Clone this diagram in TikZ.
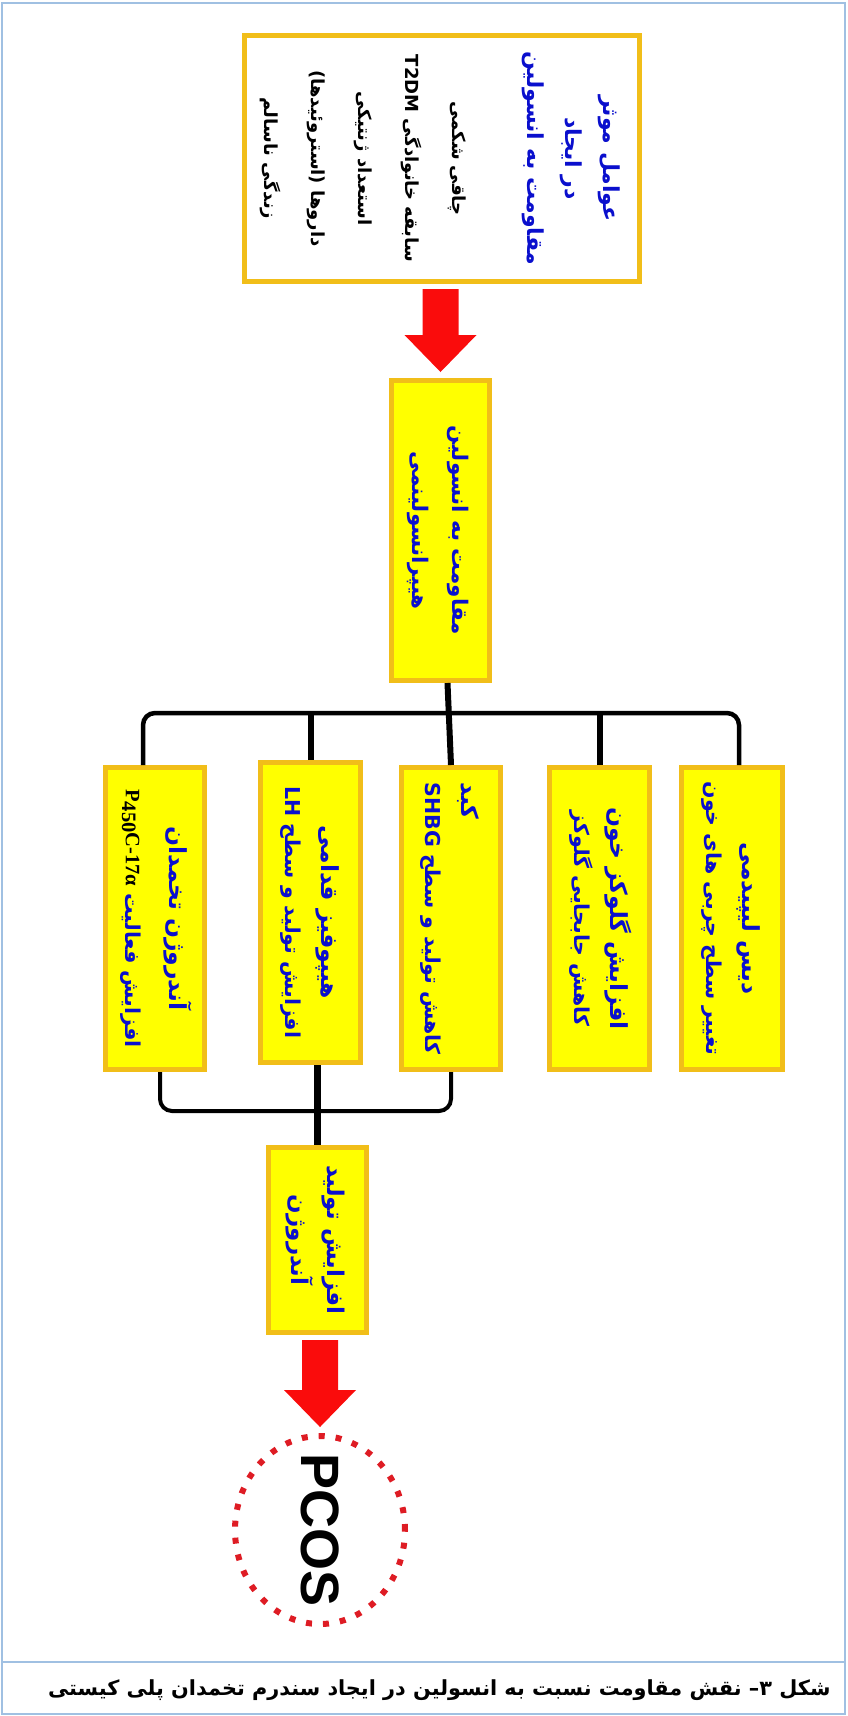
\documentclass[tikz,border=0pt]{standalone}
\usepackage{fontspec}
\usepackage{graphicx}
\usetikzlibrary{calc,shapes.geometric}
\TeXXeTstate=1
\newfontfamily\fafont[Script=Arabic]{DejaVu Sans}
\newfontfamily\latinsans{Liberation Sans}
\newfontfamily\latinserif{Liberation Serif}
\definecolor{boxgold}{RGB}{241,190,25}
\definecolor{boxyellow}{RGB}{255,255,0}
\definecolor{txtblue}{RGB}{10,15,205}
\definecolor{arrowred}{RGB}{250,12,12}
\definecolor{dotred}{RGB}{222,28,36}
\definecolor{frameblue}{RGB}{160,192,226}
\def\vlines#1{\rotatebox{-90}{\begin{tabular}{@{}c@{}}#1\end{tabular}}}
\def\headline#1{{\fontsize{23.5}{36}\selectfont\beginR #1\endR}}
\def\blockarrow(#1)(#2){\fill[arrowred] ($(#2 |- #1)+(-18,5)$) -- ($(#2 |- #1)+(18,5)$) -- ($(#2)+(18,-43)$) -- ($(#2)+(36,-43)$) -- ($(#2)+(0,-6)$) -- ($(#2)+(-36,-43)$) -- ($(#2)+(-18,-43)$) -- cycle;}

\begin{document}
\begin{tikzpicture}[x=1pt,y=-1pt,
	factorbox/.style={draw=boxgold,line width=5pt,fill=white,inner sep=0pt,minimum width=395pt,minimum height=246pt},
	ybox/.style={draw=boxgold,line width=5pt,fill=boxyellow,inner sep=0pt,minimum width=99pt,minimum height=302pt,text=txtblue,font=\fafont\bfseries\fontsize{20.5}{36}\selectfont},
	bus/.style={line width=4.5pt,rounded corners=12pt},
	drop/.style={line width=6pt}]
			%%%%% START %%%%%
			
			\useasboundingbox (0,0) rectangle (847,1716);
			\draw[frameblue,line width=1.5pt] (2,3) rectangle (845,1714);
			\draw[frameblue,line width=1.5pt] (2,1662) -- (845,1662);
			
			\node[factorbox,font=\fafont\bfseries\fontsize{18}{38}\selectfont] (factors) at (442,158.5) {\vlines{%
				\textcolor{txtblue}{\fontsize{22}{38}\selectfont\beginR عوامل موثر\endR}\\
				\textcolor{txtblue}{\fontsize{22}{38}\selectfont\beginR در ایجاد\endR}\\
				\textcolor{txtblue}{\fontsize{22}{38}\selectfont\beginR مقاومت به انسولین\endR}\\[37pt]
				\beginR چاقی شکمی\endR\\[9pt]
				\beginR سابقه خانوادگی \beginL T2DM\endL\endR\\[9pt]
				\beginR استعداد ژنتیکی\endR\\[9pt]
				\beginR داروها (استروئیدها)\endR\\[9pt]
				\beginR زندگی ناسالم\endR}};
			
			\node[ybox,minimum width=98pt,minimum height=300pt,font=\fafont\bfseries\fontsize{21.5}{40}\selectfont] (resist) at (440.5,530.5) {\vlines{\beginR مقاومت به انسولین\endR\\ \beginR هیپرانسولینمی\endR}};
			
			\node[ybox] (andro) at (155,918.5) {\vlines{\headline{آندروژن تخمدان}\\[8pt] \beginR افزایش فعالیت \beginL{\latinserif\bfseries\color{black}P\raisebox{-0.4ex}{450}C-17α}\endL\endR}};
			\node[ybox,minimum width=100pt,minimum height=300pt] (lhbox) at (310.5,912.5) {\vlines{\headline{هیپوفیز قدامی}\\ \beginR افزایش تولید و سطح \beginL LH\endL\endR}};
			\node[ybox] (shbg) at (451,918.5) {\rotatebox{-90}{\begin{tabular}{@{}l@{}}\headline{کبد}\\ \beginR کاهش تولید و سطح \beginL SHBG\endL\endR\end{tabular}}};
			\node[ybox,minimum width=100pt] (gluc) at (599.5,918.5) {\vlines{\headline{افزایش گلوکز خون}\\ \beginR کاهش جابجایی گلوکز\endR}};
			\node[ybox,minimum width=101pt] (lipid) at (732,918.5) {\vlines{\headline{دیس لیپیدمی}\\ \beginR تغییر سطح چربی های خون\endR}};
			
			\node[ybox,minimum width=98pt,minimum height=185pt,font=\fafont\bfseries\fontsize{23}{36}\selectfont] (prod) at (317,1240) {\vlines{\beginR افزایش تولید\endR\\ \beginR آندروژن\endR}};
			
			\node[ellipse,draw=dotred,line width=6pt,dash pattern=on 6pt off 11pt,inner sep=0pt,minimum width=170pt,minimum height=188pt,
				label={[font=\latinsans\bfseries\fontsize{54}{60}\selectfont]center:\rotatebox{-90}{PCOS}}] (pcos) at (320,1530) {};
			
			\coordinate (upbus) at (447,713);
			\coordinate (lowbus) at (316,1111);
			
			\draw[bus] ($(andro.north)+(-12,0)$) |- (upbus) -| ($(lipid.north)+(7,0)$);
			\draw[drop] ($(resist.south)+(7,0)$) -- (shbg.north);
			\draw[drop] (lhbox.north) -- (lhbox.north |- upbus);
			\draw[drop] (gluc.north) -- (gluc.north |- upbus);
			
			\draw[bus,line width=4pt] ($(andro.south)+(5,0)$) |- (lowbus) -| (shbg.south);
			\draw[drop,line width=7pt] (lhbox.south -| prod.north) -- (prod.north);
			
			\blockarrow(factors.south)(resist.north)
			\blockarrow(prod.south)(pcos.north)
			
			\node[anchor=east,font=\fafont\bfseries\fontsize{20.8}{30}\selectfont] (caption) at (834,1690) {\beginR شکل ۳– نقش مقاومت نسبت به انسولین در ایجاد سندرم تخمدان پلی کیستی\endR};
			
			%%%%% END %%%%%
\end{tikzpicture}
\end{document}
